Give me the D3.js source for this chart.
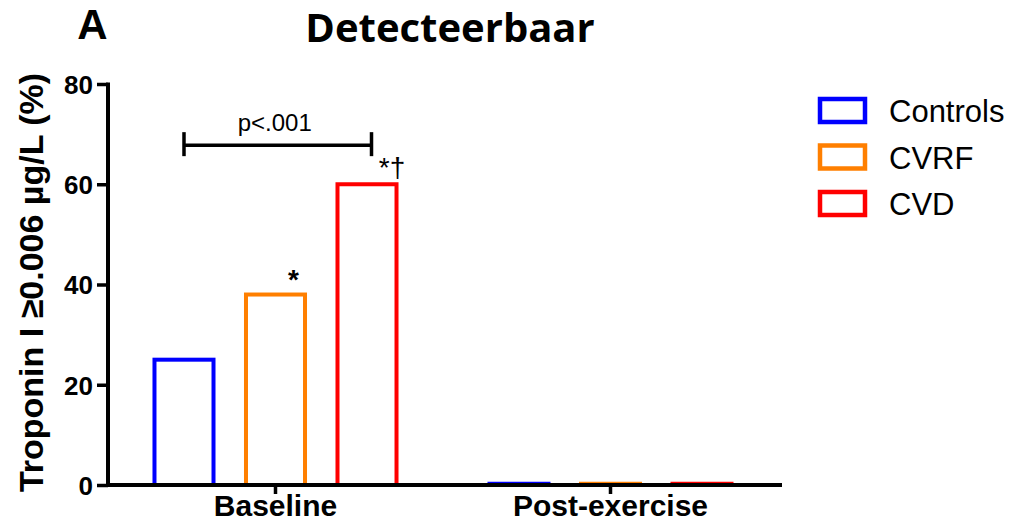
<!DOCTYPE html>
<html>
<head>
<meta charset="utf-8">
<script src="https://cdn.jsdelivr.net/npm/d3@7"></script>
<style>
  html, body { margin: 0; padding: 0; background: #fff; }
  svg { display: block; }
</style>
</head>
<body>
<svg id="chart" width="1014" height="528"></svg>
<script>
// Share of participants with detectable troponin I, per group and moment
const moments = ["Baseline", "Post-exercise"];
const groups = ["Controls", "CVRF", "CVD"];
const baselineValues = [25, 38, 60];
const postExerciseValues = [0, 0, 0];
const groupColors = ["#0000ff", "#ff7f00", "#ff0000"];
const yTicks = [0, 20, 40, 60, 80];

const rows = moments.flatMap((m, mi) =>
  groups.map((g, gi) => ({
    moment: m,
    group: g,
    value: (mi === 0 ? baselineValues : postExerciseValues)[gi],
    color: groupColors[gi]
  }))
);

const svg = d3.select("#chart");
const margin = { left: 108, right: 236, top: 84, bottom: 43 };
const W = 1014, H = 528;
const sans = "Liberation Sans, Arial, sans-serif";

const x = d3.scaleBand().domain(moments)
  .range([margin.left, W - margin.right]);
const xInner = d3.scaleBand().domain(groups)
  .range([0, x.bandwidth()]).paddingInner(0.355).paddingOuter(0.508);
const y = d3.scaleLinear().domain([0, 80]).range([H - margin.bottom, margin.top]);

// Bars (outlined, no fill)
const bars = svg.append("g");
bars.selectAll("rect").data(rows.filter(d => d.value > 0)).join("rect")
  .attr("x", d => x(d.moment) + xInner(d.group))
  .attr("y", d => y(d.value))
  .attr("width", xInner.bandwidth())
  .attr("height", d => y(0) - y(d.value))
  .attr("fill", "none")
  .attr("stroke", d => d.color)
  .attr("stroke-width", 4);
// Empty bars show only as a thin line resting on the axis
bars.selectAll("line").data(rows.filter(d => d.value === 0)).join("line")
  .attr("x1", d => x(d.moment) + xInner(d.group) - 2)
  .attr("x2", d => x(d.moment) + xInner(d.group) + xInner.bandwidth() + 2)
  .attr("y1", d => y(d.value) - 2.5)
  .attr("y2", d => y(d.value) - 2.5)
  .attr("stroke", d => d.color)
  .attr("stroke-width", 1.5);

// Y axis
const yAxis = svg.append("g")
  .attr("transform", `translate(${margin.left},0)`)
  .call(d3.axisLeft(y).tickValues(yTicks).tickSize(11).tickPadding(4));
yAxis.select(".domain").attr("stroke", "#000").attr("stroke-width", 4)
  .attr("d", `M0,${y(80) - 1.5}V${y(0)}`);
yAxis.selectAll(".tick line").attr("stroke-width", 3.5);
yAxis.selectAll(".tick text")
  .attr("font-family", sans).attr("dy", "0.36em")
  .attr("font-weight", "bold").attr("font-size", 26).attr("fill", "#000");

// X axis
const xAxis = svg.append("g")
  .attr("transform", `translate(0,${y(0)})`)
  .call(d3.axisBottom(x).tickSize(9).tickPadding(1));
xAxis.select(".domain").attr("stroke", "#000").attr("stroke-width", 4)
  .attr("d", `M${margin.left - 2},0H${W - margin.right + 4}`);
xAxis.selectAll(".tick line").attr("stroke-width", 3.5);
xAxis.selectAll(".tick text")
  .attr("font-family", sans)
  .attr("font-weight", "bold").attr("font-size", 30).attr("fill", "#000");

// Y axis title
svg.append("text")
  .attr("transform", `translate(43,${(y(0) + y(80)) / 2 - 2}) rotate(-90)`)
  .attr("text-anchor", "middle")
  .attr("font-family", sans)
  .attr("font-weight", "bold").attr("font-size", 34)
  .text("Troponin I \u22650.006 \u00b5g/L (%)");

// Panel letter and title
svg.append("text").attr("x", 92.5).attr("y", 39)
  .attr("text-anchor", "middle")
  .attr("font-family", sans).attr("font-weight", "bold")
  .attr("font-size", 42).text("A");
svg.append("text").attr("x", 450).attr("y", 42)
  .attr("text-anchor", "middle")
  .attr("font-family", "Open Sans, sans-serif").attr("font-weight", "bold")
  .attr("font-size", 40).text("Detecteerbaar");

// Significance markers
const barCenter = (m, g) => x(m) + xInner(g) + xInner.bandwidth() / 2;
svg.append("text")
  .attr("x", barCenter("Baseline", "CVRF") + 18).attr("y", y(38) - 6)
  .attr("text-anchor", "middle").attr("font-family", sans)
  .attr("font-weight", "bold").attr("font-size", 28).text("*");
svg.append("text")
  .attr("x", barCenter("Baseline", "CVD") + 25).attr("y", y(60) - 7)
  .attr("text-anchor", "middle").attr("font-family", sans)
  .attr("font-size", 28).text("*\u2020");

// Bracket between Controls and CVD at baseline
const bx1 = barCenter("Baseline", "Controls");
const bx2 = barCenter("Baseline", "CVD") + 4.5;
const by = y(67.8);
const bracket = svg.append("g").attr("stroke", "#000").attr("stroke-width", 3.5);
bracket.append("line").attr("x1", bx1).attr("x2", bx2).attr("y1", by).attr("y2", by);
bracket.append("line").attr("x1", bx1).attr("x2", bx1).attr("y1", by - 13).attr("y2", by + 11);
bracket.append("line").attr("x1", bx2).attr("x2", bx2).attr("y1", by - 13).attr("y2", by + 11);
svg.append("text").attr("x", (bx1 + bx2) / 2 - 3).attr("y", by - 14)
  .attr("text-anchor", "middle").attr("font-family", sans)
  .attr("font-size", 24).text("p<.001");

// Legend
const legend = svg.append("g").attr("transform", "translate(820,99)");
const item = legend.selectAll("g").data(groups).join("g")
  .attr("transform", (d, i) => `translate(0,${i * 46.5})`);
item.append("rect").attr("width", 45).attr("height", 23)
  .attr("fill", "none").attr("stroke-width", 4.5)
  .attr("stroke", (d, i) => groupColors[i]);
item.append("text").attr("x", 69).attr("y", 23)
  .attr("font-family", sans)
  .attr("font-size", 31).text(d => d);
</script>
</body>
</html>
